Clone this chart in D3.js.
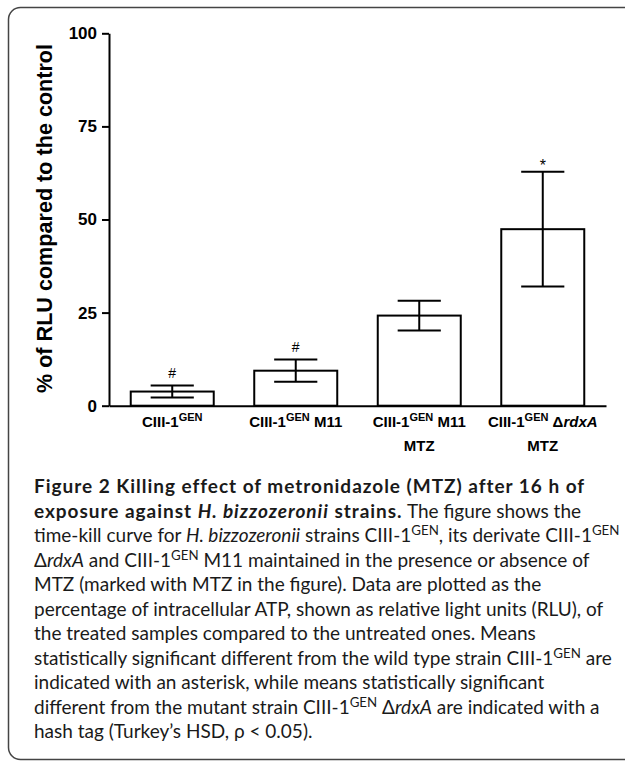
<!DOCTYPE html>
<html><head><meta charset="utf-8">
<script src="https://cdn.jsdelivr.net/npm/d3@7"></script>
<style>body{margin:0;background:#fff}</style>
</head><body>
<svg id="c" width="625" height="763"></svg>
<script>
// ---- data ----
const categories = ["CIII-1GEN", "CIII-1GEN M11", "CIII-1GEN M11 MTZ", "CIII-1GEN \u0394rdxA MTZ"];
const means  = [3.8, 9.4, 24.2, 47.4];
const errors = [1.6, 3.0, 4.0, 15.4];
const markers = ["#", "#", "", "*"];
const yTicks = [0, 25, 50, 75, 100];
const yTitle = "% of RLU compared to the control";
const categoryLabels = [
  [[["CIII-1",""],["GEN","sup"]]],
  [[["CIII-1",""],["GEN","sup"],[" M11",""]]],
  [[["CIII-1",""],["GEN","sup"],[" M11",""]],[["MTZ",""]]],
  [[["CIII-1",""],["GEN","sup"],[" \u0394",""],["rdxA","i"]],[["MTZ",""]]]
];
const captionLines = [
  [["Figure 2 Killing effect of metronidazole (MTZ) after 16 h of","b"]],
  [["exposure against ","b"],["H. bizzozeronii","bi"],[" strains.","b"],[" The figure shows the",""]],
  [["time-kill curve for ",""],["H. bizzozeronii","i"],[" strains CIII-1",""],["GEN","sup"],[", its derivate CIII-1",""],["GEN","sup"]],
  [["\u0394",""],["rdxA","i"],[" and CIII-1",""],["GEN","sup"],[" M11 maintained in the presence or absence of",""]],
  [["MTZ (marked with MTZ in the figure). Data are plotted as the",""]],
  [["percentage of intracellular ATP, shown as relative light units (RLU), of",""]],
  [["the treated samples compared to the untreated ones. Means",""]],
  [["statistically significant different from the wild type strain CIII-1",""],["GEN","sup"],[" are",""]],
  [["indicated with an asterisk, while means statistically significant",""]],
  [["different from the mutant strain CIII-1",""],["GEN","sup"],[" \u0394",""],["rdxA","i"],[" are indicated with a",""]],
  [["hash tag (Turkey\u2019s HSD, \u03c1 < 0.05).",""]]
];

// ---- layout ----
const svg = d3.select("#c");
const chartFont = "'Liberation Sans', Arial, sans-serif";
const capFont = "Lato, 'Open Sans', sans-serif";

svg.append("rect").attr("x", 8.5).attr("y", 7.5).attr("width", 720).attr("height", 752)
  .attr("rx", 12).attr("fill", "none").attr("stroke", "#444").attr("stroke-width", 1.5);

const x = d3.scaleBand().domain(categories).range([109, 606]).paddingInner(0.328).paddingOuter(0.176);
const y = d3.scaleLinear().domain([0, 100]).range([405.7, 33.3]);

const g = svg.append("g");
g.selectAll("rect.bar").data(categories).join("rect").attr("class","bar")
  .attr("x", d => x(d)).attr("width", x.bandwidth())
  .attr("y", (d,i) => y(means[i])).attr("height", (d,i) => y(0) - y(means[i]))
  .attr("fill", "#fff").attr("stroke", "#000").attr("stroke-width", 2);

const capW = x.bandwidth() * 0.52;
categories.forEach((c, i) => {
  const cx = x(c) + x.bandwidth()/2;
  const hi = y(means[i] + errors[i]), lo = y(means[i] - errors[i]);
  g.append("line").attr("x1", cx).attr("x2", cx).attr("y1", hi).attr("y2", lo).attr("stroke","#000").attr("stroke-width",2);
  [hi, lo].forEach(yy => g.append("line").attr("x1", cx - capW/2).attr("x2", cx + capW/2)
     .attr("y1", yy).attr("y2", yy).attr("stroke","#000").attr("stroke-width",2));
  if (markers[i]) {
    const isStar = markers[i] === "*";
    g.append("text").attr("x", cx).attr("y", hi - (isStar ? 1 : 8))
      .attr("text-anchor","middle").attr("font-family", chartFont)
      .attr("font-size", isStar ? 16 : 14).attr("fill","#000").text(markers[i]);
  }
});

const ya = svg.append("g").attr("transform", `translate(109,0)`)
  .call(d3.axisLeft(y).tickValues(yTicks).tickSize(7).tickSizeOuter(0).tickPadding(5));
ya.select(".domain").attr("stroke-width", 2);
ya.selectAll(".tick line").attr("stroke-width", 2);
ya.selectAll(".tick text").attr("font-family", chartFont).attr("font-weight","bold").attr("font-size", 17).attr("fill","#000");

const xa = svg.append("g").attr("transform", `translate(0,${y(0)})`)
  .call(d3.axisBottom(x).tickSize(0).tickSizeOuter(0).tickFormat(""));
xa.select(".domain").attr("stroke-width", 2);

categoryLabels.forEach((lines, i) => {
  const cx = x(categories[i]) + x.bandwidth()/2;
  lines.forEach((segs, li) => {
    const t = svg.append("text").attr("x", cx).attr("y", 426.7 + li*24.3)
      .attr("text-anchor","middle").attr("font-family", chartFont).attr("font-weight","bold")
      .attr("font-size", 15).attr("fill","#000");
    let shifted = false;
    segs.forEach(([txt, st]) => {
      const ts = t.append("tspan").text(txt);
      if (st === "sup") { ts.attr("font-size", 11).attr("dy", -6); shifted = true; }
      else { if (shifted) { ts.attr("dy", 6); shifted = false; } }
      if (st === "i") ts.attr("font-style","italic");
    });
  });
});

svg.append("text").attr("transform", `translate(51.5,${(44+393)/2}) rotate(-90)`)
  .attr("text-anchor","middle").attr("font-family", chartFont).attr("font-weight","bold")
  .attr("font-size", 21.6).attr("fill","#000").text(yTitle);

// caption
const capX = 34, capY0 = 493, capDy = 24.5;
let capFs = 16, boldLs = 0;
function drawLine(segs, yy, fs, ls) {
  const t = svg.append("text").attr("x", capX).attr("y", yy).attr("font-family", capFont)
    .attr("font-size", fs).attr("fill", "#1a1a1a");
  let shifted = false;
  segs.forEach(([txt, st]) => {
    const ts = t.append("tspan").text(txt);
    if (st === "sup") { ts.attr("font-size", fs*0.7).attr("dy", -fs*0.36); shifted = true; }
    else if (shifted) { ts.attr("dy", fs*0.36); shifted = false; }
    if (st.includes("b")) ts.attr("font-weight","bold").attr("letter-spacing", ls);
    if (st.includes("i")) ts.attr("font-style","italic");
  });
  return t;
}
function widthOf(idx, fs, ls) {
  const p = drawLine(captionLines[idx], -100, fs, ls);
  const w = p.node().getComputedTextLength();
  p.remove();
  return w;
}
capFs = Math.min(capFs * 582 / widthOf(5, capFs, 0), capFs * 586 / widthOf(2, capFs, 0));
const w1 = widthOf(0, capFs, 0);
boldLs = (550 - w1) / captionLines[0][0][0].length;
captionLines.forEach((segs, i) => drawLine(segs, capY0 + i*capDy, capFs, boldLs));
</script>
</body></html>
